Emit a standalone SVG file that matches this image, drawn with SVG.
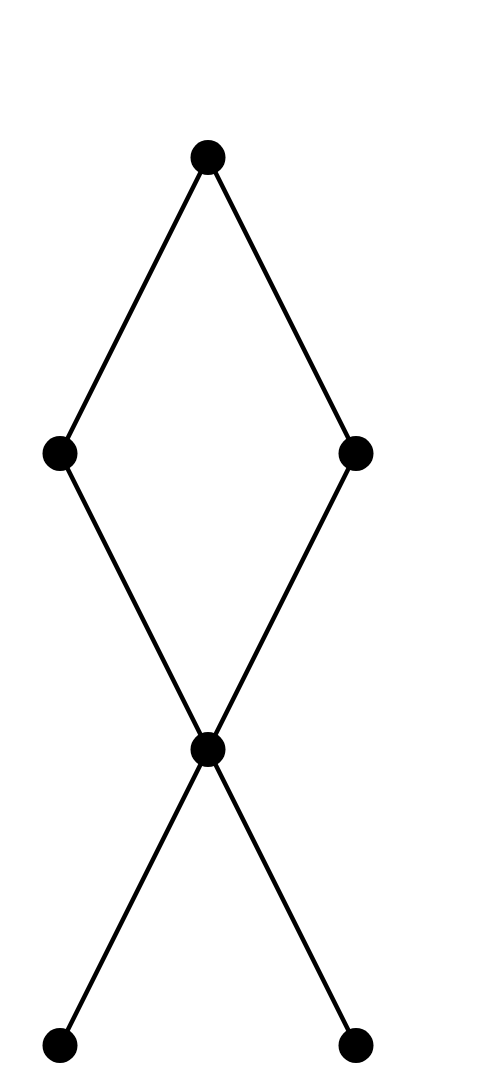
<svg xmlns="http://www.w3.org/2000/svg" width="494" height="1090" viewBox="0 0 494 1090">
<style>
.edge{stroke:#000;stroke-width:4.5;fill:none}
.node{fill:#000}
</style>
<rect width="494" height="1090" fill="#fff"/>
<g id="connectors">
<line class="edge" x1="208" y1="157.5" x2="60" y2="453.5"/>
<line class="edge" x1="208" y1="157.5" x2="356" y2="453.5"/>
<line class="edge" x1="60" y1="453.5" x2="208" y2="749.5"/>
<line class="edge" x1="356" y1="453.5" x2="208" y2="749.5"/>
<line class="edge" x1="208" y1="749.5" x2="60" y2="1045.5"/>
<line class="edge" x1="208" y1="749.5" x2="356" y2="1045.5"/>
</g>
<g id="n1"><circle class="node" cx="208" cy="157.5" r="17.5"/></g>
<g id="n2"><circle class="node" cx="60" cy="453.5" r="17.5"/></g>
<g id="n3"><circle class="node" cx="356" cy="453.5" r="17.5"/></g>
<g id="n4"><circle class="node" cx="208" cy="749.5" r="17.5"/></g>
<g id="n5"><circle class="node" cx="60" cy="1045.5" r="17.5"/></g>
<g id="n6"><circle class="node" cx="356" cy="1045.5" r="17.5"/></g>
</svg>
